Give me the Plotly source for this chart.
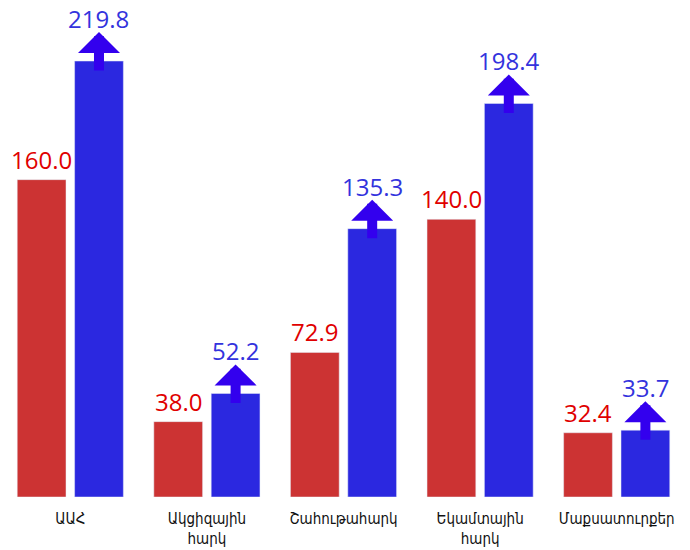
import plotly.graph_objects as go

categories = ["ԱԱՀ", "Ակցիզային<br>հարկ", "Շահութահարկ", "Եկամտային<br>հարկ", "Մաքսատուրքեր"]
values_prev = [160.0, 38.0, 72.9, 140.0, 32.4]
values_curr = [219.8, 52.2, 135.3, 198.4, 33.7]

RED = "#cc3333"
BLUE = "#2b28e0"
ARROW = "#3300ee"
RED_TXT = "#e00000"
BLUE_TXT = "#3333dd"
FONT = "Open Sans, DejaVu Sans, sans-serif"
TICK_FONT = "DejaVu Sans Condensed, DejaVu Sans, sans-serif"
BARGAP = 0.16
GROUPGAP = 0.15

fig = go.Figure()
fig.add_trace(go.Bar(x=list(range(len(categories))), y=values_prev, marker_color=RED,
                     hoverinfo="skip", name="prev"))
fig.add_trace(go.Bar(x=list(range(len(categories))), y=values_curr, marker_color=BLUE,
                     hoverinfo="skip", name="curr"))

off = (1 - BARGAP) / 4
ann = []
for i, (a, b) in enumerate(zip(values_prev, values_curr)):
    ann.append(dict(x=i - off, y=a, text=f"{a:.1f}", showarrow=False, yanchor="bottom",
                    yshift=2, font=dict(family=FONT, size=24, color=RED_TXT)))
    ann.append(dict(x=i + off, y=b, text="", showarrow=True, ax=0, ay=40, axref="pixel",
                    ayref="pixel", yshift=29, arrowhead=1, arrowsize=0.7, arrowwidth=10,
                    arrowcolor=ARROW, standoff=0, startstandoff=0))
    ann.append(dict(x=i + off, y=b, text=f"{b:.1f}", showarrow=False, yanchor="bottom",
                    yshift=24, font=dict(family=FONT, size=24, color=BLUE_TXT)))

fig.update_layout(
    width=690, height=550,
    margin=dict(l=2, r=5, t=0, b=53),
    barmode="group", bargap=BARGAP, bargroupgap=GROUPGAP,
    plot_bgcolor="white", paper_bgcolor="white",
    showlegend=False,
    annotations=ann,
    font=dict(family=FONT),
)
fig.update_xaxes(tickmode="array", tickvals=list(range(len(categories))), ticktext=categories,
                 tickfont=dict(family=TICK_FONT, size=15, color="#111111"), showgrid=False,
                 zeroline=False, showline=False, ticks="", ticklabelstandoff=11,
                 automargin=False, range=[-0.5, len(categories) - 0.5])
fig.update_yaxes(range=[0, max(values_curr) * 1.14], showgrid=False, zeroline=False,
                 showticklabels=False, showline=False, automargin=False)

fig.write_html("out.html", config={"displayModeBar": False},
               post_script="document.body.style.margin='0';")
